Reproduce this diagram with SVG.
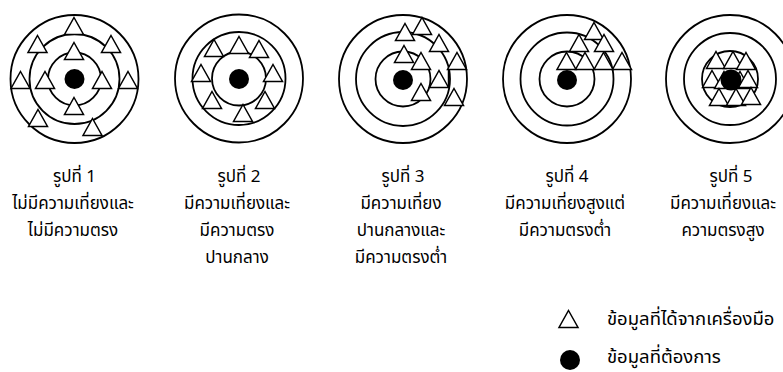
<svg xmlns="http://www.w3.org/2000/svg" xmlns:xlink="http://www.w3.org/1999/xlink" width="783" height="372" viewBox="0 0 783 372">
<style>
.ring{fill:none;stroke:#000;stroke-width:1.8}
.tri{fill:#fff;stroke:#000;stroke-width:1.5;stroke-linejoin:miter}
.dot{fill:#000}
.lbl{font-family:"Noto Sans Thai","Leelawadee UI",Tahoma,"Noto Sans","DejaVu Sans",sans-serif;font-size:17px;fill:#000;text-anchor:middle}
.leg{font-family:"Noto Sans Thai","Leelawadee UI",Tahoma,"Noto Sans","DejaVu Sans",sans-serif;font-size:18.5px;fill:#000}
</style>
<defs>
<path id="t" class="tri" d="M0,-8.5 L9.5,8.5 L-9.5,8.5 Z"/>
</defs>
<rect width="783" height="372" fill="#fff"/>

<g id="target1">
<circle class="ring" cx="74.5" cy="79" r="64"/>
<circle class="ring" cx="74.5" cy="79" r="45"/>
<circle class="ring" cx="74.5" cy="79" r="26.5"/>
<use xlink:href="#t" x="74" y="26"/>
<use xlink:href="#t" x="37.5" y="44"/>
<use xlink:href="#t" x="111" y="44"/>
<use xlink:href="#t" x="74" y="51"/>
<use xlink:href="#t" x="20.5" y="80"/>
<use xlink:href="#t" x="45" y="80"/>
<use xlink:href="#t" x="102" y="80"/>
<use xlink:href="#t" x="128" y="80"/>
<use xlink:href="#t" x="74" y="106"/>
<use xlink:href="#t" x="38" y="118"/>
<use xlink:href="#t" x="92.5" y="127"/>
<circle class="dot" cx="74.5" cy="79" r="10"/>
<text class="lbl" x="74.5" y="182">รูปที่ 1</text>
<text class="lbl" x="73" y="209">ไม่มีความเที่ยงและ</text>
<text class="lbl" x="73" y="236">ไม่มีความตรง</text>
</g>

<g id="target2">
<circle class="ring" cx="239" cy="78.5" r="64"/>
<circle class="ring" cx="239" cy="78.5" r="46.5"/>
<circle class="ring" cx="239" cy="78.5" r="27"/>
<use xlink:href="#t" x="214" y="48"/>
<use xlink:href="#t" x="239" y="45"/>
<use xlink:href="#t" x="259" y="49"/>
<use xlink:href="#t" x="201" y="73"/>
<use xlink:href="#t" x="273" y="73"/>
<use xlink:href="#t" x="212" y="100"/>
<use xlink:href="#t" x="265" y="100"/>
<use xlink:href="#t" x="243" y="113"/>
<circle class="dot" cx="239" cy="79" r="10"/>
<text class="lbl" x="239" y="182">รูปที่ 2</text>
<text class="lbl" x="237" y="209">มีความเที่ยงและ</text>
<text class="lbl" x="237" y="236">มีความตรง</text>
<text class="lbl" x="237" y="263">ปานกลาง</text>
</g>

<g id="target3">
<circle class="ring" cx="403" cy="79" r="64"/>
<circle class="ring" cx="403" cy="79" r="47"/>
<circle class="ring" cx="403" cy="79" r="27.5"/>
<use xlink:href="#t" x="405" y="32"/>
<use xlink:href="#t" x="422" y="26"/>
<use xlink:href="#t" x="439" y="43"/>
<use xlink:href="#t" x="404" y="54"/>
<use xlink:href="#t" x="421" y="61"/>
<use xlink:href="#t" x="457" y="61"/>
<use xlink:href="#t" x="439" y="79"/>
<use xlink:href="#t" x="421" y="92"/>
<use xlink:href="#t" x="454" y="97"/>
<line x1="448.5" y1="70" x2="448.5" y2="87.5" stroke="#000" stroke-width="1.5"/>
<circle class="dot" cx="403" cy="80" r="10"/>
<text class="lbl" x="403" y="182">รูปที่ 3</text>
<text class="lbl" x="401" y="209">มีความเที่ยง</text>
<text class="lbl" x="401" y="236">ปานกลางและ</text>
<text class="lbl" x="401" y="263">มีความตรงต่ำ</text>
</g>

<g id="target4">
<circle class="ring" cx="567" cy="79" r="64"/>
<circle class="ring" cx="567" cy="79" r="46.5"/>
<circle class="ring" cx="567" cy="79" r="27.5"/>
<use xlink:href="#t" x="594" y="31"/>
<use xlink:href="#t" x="579" y="43"/>
<use xlink:href="#t" x="604" y="43"/>
<use xlink:href="#t" x="566.5" y="61"/>
<use xlink:href="#t" x="585" y="61"/>
<use xlink:href="#t" x="603.5" y="61"/>
<use xlink:href="#t" x="622" y="61"/>
<circle class="dot" cx="567" cy="80" r="10"/>
<text class="lbl" x="567" y="182">รูปที่ 4</text>
<text class="lbl" x="565" y="209">มีความเที่ยงสูงแต่</text>
<text class="lbl" x="565" y="236">มีความตรงต่ำ</text>
</g>

<g id="target5">
<circle class="ring" cx="730" cy="79" r="64"/>
<circle class="ring" cx="730" cy="79" r="46"/>
<circle class="ring" cx="730" cy="79" r="28"/>
<use xlink:href="#t" x="716" y="60"/>
<use xlink:href="#t" x="733" y="60"/>
<use xlink:href="#t" x="746" y="61"/>
<use xlink:href="#t" x="712" y="79"/>
<use xlink:href="#t" x="724" y="80"/>
<use xlink:href="#t" x="740" y="80"/>
<use xlink:href="#t" x="748" y="79"/>
<use xlink:href="#t" x="719" y="97"/>
<use xlink:href="#t" x="736" y="97"/>
<use xlink:href="#t" x="751" y="96"/>
<circle class="dot" cx="731" cy="80" r="10.5"/>
<text class="lbl" x="731" y="182">รูปที่ 5</text>
<text class="lbl" x="723" y="209">มีความเที่ยงและ</text>
<text class="lbl" x="723" y="236">ความตรงสูง</text>
</g>

<g id="legend">
<use xlink:href="#t" x="568.5" y="319"/>
<circle class="dot" cx="570" cy="360" r="10"/>
<text class="leg" x="607" y="325">ข้อมูลที่ได้จากเครื่องมือ</text>
<text class="leg" x="607" y="363">ข้อมูลที่ต้องการ</text>
</g>
</svg>
